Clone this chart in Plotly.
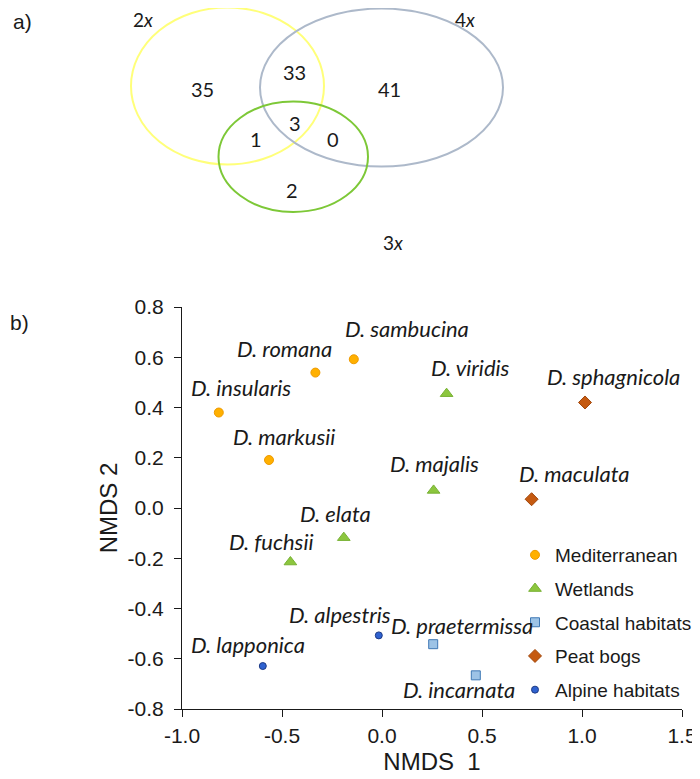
import plotly.graph_objects as go

# page is 700x779, the html body adds an 8px margin -> figure is 692x771
PAGE_OFF = 8
W, H = 692, 771

# ---------------- data ----------------
species = ["D. insularis", "D. romana", "D. sambucina", "D. markusii",
           "D. viridis", "D. majalis", "D. elata", "D. fuchsii",
           "D. praetermissa", "D. incarnata",
           "D. sphagnicola", "D. maculata",
           "D. alpestris", "D. lapponica"]
nmds1 = [-0.816, -0.333, -0.141, -0.565,
         0.323, 0.258, -0.191, -0.458,
         0.256, 0.469,
         1.015, 0.748,
         -0.016, -0.596]
nmds2 = [0.380, 0.539, 0.592, 0.191,
         0.455, 0.070, -0.118, -0.215,
         -0.542, -0.666,
         0.420, 0.035,
         -0.507, -0.629]
habitat = ["Mediterranean", "Mediterranean", "Mediterranean", "Mediterranean",
           "Wetlands", "Wetlands", "Wetlands", "Wetlands",
           "Coastal habitats", "Coastal habitats",
           "Peat bogs", "Peat bogs",
           "Alpine habitats", "Alpine habitats"]
habitat_order = ["Mediterranean", "Wetlands", "Coastal habitats", "Peat bogs", "Alpine habitats"]

x_tickvals = [-1.0, -0.5, 0.0, 0.5, 1.0, 1.5]
x_ticktext = ["-1.0", "-0.5", "0.0", "0.5", "1.0", "1.5"]
y_tickvals = [-0.8, -0.6, -0.4, -0.2, 0.0, 0.2, 0.4, 0.6, 0.8]
y_ticktext = ["-0.8", "-0.6", "-0.4", "-0.2", "0.0", "0.2", "0.4", "0.6", "0.8"]

venn_sets = ["2<i>x</i>", "4<i>x</i>", "3<i>x</i>"]
venn_counts = [35, 33, 41, 3, 1, 0, 2]   # 2x only, 2x&4x, 4x only, all, 2x&3x, 4x&3x, 3x only

# ---------------- styles / positions ----------------
styles = {
    "Mediterranean":    dict(symbol="circle", size=9, color="#FFB000", line=dict(color="#EE9A00", width=1)),
    "Wetlands":         dict(symbol="triangle-up", size=11, color="#8CC63E", line=dict(color="#77B133", width=1)),
    "Coastal habitats": dict(symbol="square", size=9, color="#9DC3E6", line=dict(color="#3F78B5", width=1)),
    "Peat bogs":        dict(symbol="diamond", size=10, color="#C55A11", line=dict(color="#A2470B", width=1)),
    "Alpine habitats":  dict(symbol="circle", size=7, color="#2F62D0", line=dict(color="#1D3A85", width=1)),
}
# label offsets in pixels (dx right, dy up) from each point
label_offsets = {
    "D. insularis": (22, 25), "D. romana": (-31, 24), "D. sambucina": (53, 31),
    "D. markusii": (15, 24), "D. viridis": (24, 26), "D. majalis": (1, 27),
    "D. elata": (-8, 24), "D. fuchsii": (-19, 21), "D. praetermissa": (29, 19),
    "D. incarnata": (-17, -14), "D. sphagnicola": (28, 26), "D. maculata": (43, 26),
    "D. alpestris": (-39, 21), "D. lapponica": (-15, 22),
}


def px(x):
    """page pixel x -> paper coordinate"""
    return (x - PAGE_OFF) / W


def py(y):
    """page pixel y -> paper coordinate"""
    return 1 - (y - PAGE_OFF) / H


fig = go.Figure()

for hab in habitat_order:
    idx = [i for i, h in enumerate(habitat) if h == hab]
    st = styles[hab]
    fig.add_trace(go.Scatter(
        x=[nmds1[i] for i in idx], y=[nmds2[i] for i in idx],
        mode="markers", name=hab, legendgroup=hab,
        text=[species[i] for i in idx],
        marker=dict(symbol=st["symbol"], size=st["size"], color=st["color"], line=st["line"]),
        cliponaxis=False,
    ))

label_font = dict(family="Lato", size=22, color="#1a1a1a", style="italic")
annotations = []
for s, x, y in zip(species, nmds1, nmds2):
    dx, dy = label_offsets[s]
    annotations.append(dict(
        x=x, y=y, xref="x", yref="y", text=s, showarrow=False,
        xshift=dx, yshift=dy, xanchor="center", yanchor="middle",
        font=label_font,
    ))

# Venn diagram
ellipses = [
    ((131, 7.5, 324, 164.5), "#FFFF7A"),
    ((260, 8.5, 503, 166.5), "#ADB9CA"),
    ((218.5, 101.5, 368, 212), "#7DC837"),
]
shapes = []
for (x0, y0, x1, y1), col in ellipses:
    shapes.append(dict(type="circle", xref="paper", yref="paper",
                       x0=px(x0), x1=px(x1), y0=py(y1), y1=py(y0),
                       line=dict(color=col, width=2), fillcolor="rgba(0,0,0,0)"))

set_label_pos = [(143, 20), (465, 20), (393, 242)]
for t, (x, y) in zip(venn_sets, set_label_pos):
    annotations.append(dict(x=px(x), y=py(y), xref="paper", yref="paper", text=t,
                            showarrow=False, xanchor="center", yanchor="middle",
                            font=dict(family="Lato", size=19, color="#1a1a1a")))

count_pos = [(202, 89), (294, 72), (389, 89), (295, 123), (256, 139), (333, 139), (292, 190)]
for c, (x, y) in zip(venn_counts, count_pos):
    annotations.append(dict(x=px(x), y=py(y), xref="paper", yref="paper", text=str(c),
                            showarrow=False, xanchor="center", yanchor="middle",
                            font=dict(family="Lato", size=20, color="#1a1a1a")))

for t, (x, y) in zip(["a)", "b)"], [(22, 21), (20, 322)]):
    annotations.append(dict(x=px(x), y=py(y), xref="paper", yref="paper", text=t,
                            showarrow=False, xanchor="center", yanchor="middle",
                            font=dict(family="Liberation Sans", size=21, color="#1a1a1a")))

axis_font = dict(family="Liberation Sans", size=21, color="#1a1a1a")
title_font = dict(family="Liberation Sans", size=24, color="#1a1a1a")

fig.update_layout(
    width=W, height=H, template="none",
    margin=dict(l=0, r=0, t=0, b=0),
    paper_bgcolor="white", plot_bgcolor="white",
    shapes=shapes, annotations=annotations,
    showlegend=True,
    legend=dict(x=px(515), y=py(536), xanchor="left", yanchor="top",
                font=dict(family="Liberation Sans", size=19, color="#1a1a1a"),
                bgcolor="rgba(0,0,0,0)", tracegroupgap=6, itemwidth=30),
    xaxis=dict(domain=[px(182), px(682)], range=[-1.0, 1.5],
               tickvals=x_tickvals, ticktext=x_ticktext,
               showgrid=False, zeroline=False, showline=True, linecolor="#1a1a1a", linewidth=1,
               ticks="outside", ticklen=7, tickcolor="#1a1a1a", tickfont=axis_font,
               ticklabelstandoff=1,
               title=dict(text="NMDS  1", font=title_font, standoff=6),
               automargin=False, anchor="y"),
    yaxis=dict(domain=[py(709), py(307)], range=[-0.8, 0.8],
               tickvals=y_tickvals, ticktext=y_ticktext,
               showgrid=False, zeroline=False, showline=True, linecolor="#1a1a1a", linewidth=1,
               ticks="outside", ticklen=7, tickcolor="#1a1a1a", tickfont=axis_font,
               ticklabelstandoff=6,
               title=dict(text="NMDS 2", font=title_font, standoff=3),
               automargin=False, anchor="x"),
)

fig.write_html("out.html")
